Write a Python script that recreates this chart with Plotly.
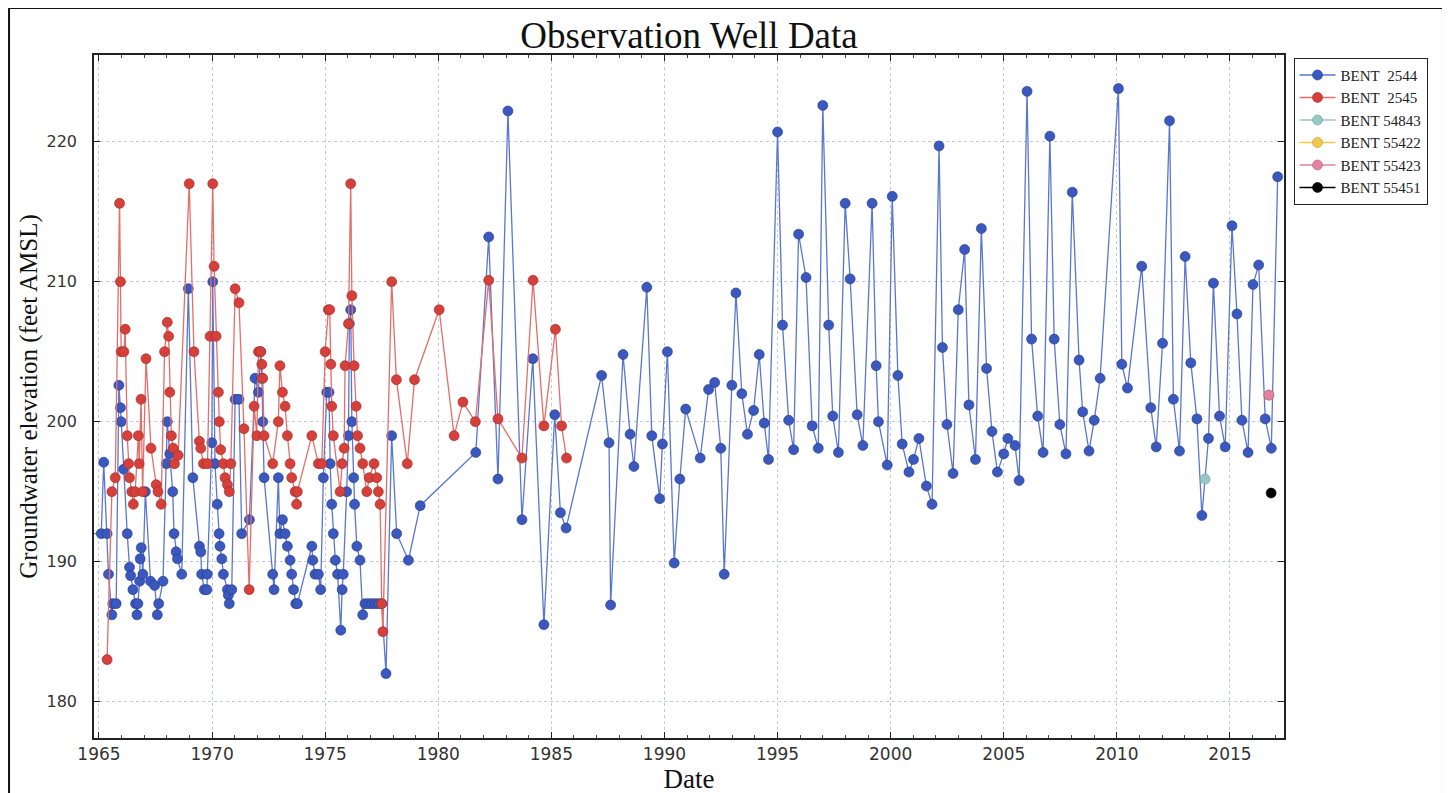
import plotly.graph_objects as go

# ---------------- data (decimal years, feet AMSL) ----------------
blue_years = [1964.50, 1965.10, 1965.21, 1965.36, 1965.42, 1965.57, 1965.61, 1965.76, 1965.88, 1965.95,
              1965.98, 1966.09, 1966.25, 1966.35, 1966.40, 1966.50, 1966.62, 1966.68, 1966.72, 1966.80,
              1966.82, 1966.87, 1966.94, 1967.05, 1967.28, 1967.46, 1967.58, 1967.64, 1967.83, 1967.98,
              1968.02, 1968.13, 1968.26, 1968.32, 1968.41, 1968.47, 1968.66, 1968.95, 1969.15, 1969.44,
              1969.50, 1969.54, 1969.66, 1969.77, 1969.79, 1969.99, 1970.03, 1970.13, 1970.23, 1970.31,
              1970.35, 1970.43, 1970.50, 1970.68, 1970.72, 1970.76, 1970.87, 1971.02, 1971.19, 1971.31,
              1971.65, 1971.90, 1972.05, 1972.15, 1972.20, 1972.24, 1972.30, 1972.68, 1972.74, 1972.93,
              1973.00, 1973.11, 1973.23, 1973.33, 1973.45, 1973.52, 1973.60, 1973.70, 1973.77, 1974.41,
              1974.45, 1974.55, 1974.70, 1974.80, 1974.92, 1975.07, 1975.17, 1975.22, 1975.29, 1975.36,
              1975.45, 1975.55, 1975.69, 1975.75, 1975.80, 1975.95, 1976.03, 1976.07, 1976.13, 1976.18,
              1976.26, 1976.30, 1976.40, 1976.54, 1976.66, 1976.76, 1976.90, 1977.05, 1977.20, 1977.35,
              1977.50, 1977.69, 1977.94, 1978.16, 1978.68, 1979.20, 1981.66, 1982.23, 1982.64, 1983.08,
              1983.70, 1984.18, 1984.67, 1985.15, 1985.40, 1985.65, 1987.22, 1987.55, 1987.62, 1988.17,
              1988.48, 1988.65, 1989.22, 1989.44, 1989.79, 1989.91, 1990.13, 1990.43, 1990.68, 1990.94,
              1991.58, 1991.95, 1992.22, 1992.49, 1992.64, 1992.98, 1993.16, 1993.42, 1993.67, 1993.94,
              1994.19, 1994.41, 1994.60, 1995.00, 1995.22, 1995.49, 1995.71, 1995.93, 1996.26, 1996.53,
              1996.80, 1997.00, 1997.26, 1997.44, 1997.69, 1997.99, 1998.21, 1998.52, 1998.77, 1999.18,
              1999.36, 1999.46, 1999.85, 2000.07, 2000.32, 2000.51, 2000.81, 2001.01, 2001.25, 2001.58,
              2001.83, 2002.14, 2002.29, 2002.49, 2002.76, 2002.99, 2003.27, 2003.46, 2003.75, 2004.01,
              2004.24, 2004.48, 2004.72, 2005.00, 2005.18, 2005.50, 2005.68, 2006.03, 2006.23, 2006.50,
              2006.74, 2007.04, 2007.23, 2007.48, 2007.75, 2008.03, 2008.33, 2008.49, 2008.77, 2009.00,
              2009.26, 2010.07, 2010.22, 2010.47, 2011.10, 2011.50, 2011.74, 2012.02, 2012.33, 2012.50,
              2012.77, 2013.02, 2013.27, 2013.54, 2013.76, 2014.05, 2014.27, 2014.54, 2014.79, 2015.09,
              2015.31, 2015.53, 2015.80, 2016.02, 2016.27, 2016.56, 2016.83, 2017.11]
blue_vals = [192.0, 192.0, 197.1, 192.0, 189.1, 186.2, 187.0, 187.0, 202.6, 201.0,
             200.0, 196.6, 192.0, 189.6, 189.0, 188.0, 187.0, 186.2, 187.0, 188.6,
             190.2, 191.0, 189.1, 195.0, 188.6, 188.3, 186.2, 187.0, 188.6, 197.0,
             200.0, 197.7, 195.0, 192.0, 190.7, 190.2, 189.1, 209.5, 196.0, 191.1,
             190.7, 189.1, 188.0, 188.0, 189.1, 198.5, 210.0, 197.0, 194.1, 192.0,
             191.1, 190.2, 189.1, 188.0, 187.6, 187.0, 188.0, 201.6, 201.6, 192.0,
             193.0, 203.1, 202.1, 205.0, 203.1, 200.0, 196.0, 189.1, 188.0, 196.0,
             192.0, 193.0, 192.0, 191.1, 190.1, 189.1, 188.0, 187.0, 187.0, 191.1,
             190.1, 189.1, 189.1, 188.0, 196.0, 202.1, 202.1, 197.0, 194.1, 192.0,
             190.1, 189.1, 185.1, 188.0, 189.1, 195.0, 199.0, 207.0, 208.0, 200.0,
             196.0, 194.1, 191.1, 190.1, 186.2, 187.0, 187.0, 187.0, 187.0, 187.0,
             187.0, 182.0, 199.0, 192.0, 190.1, 194.0, 197.8, 213.2, 195.9, 222.2,
             193.0, 204.5, 185.5, 200.5, 193.5, 192.4, 203.3, 198.5, 186.9, 204.8,
             199.1, 196.8, 209.6, 199.0, 194.5, 198.4, 205.0, 189.9, 195.9, 200.9,
             197.4, 202.3, 202.8, 198.1, 189.1, 202.6, 209.2, 202.0, 199.1, 200.8,
             204.8, 199.9, 197.3, 220.7, 206.9, 200.1, 198.0, 213.4, 210.3, 199.7,
             198.1, 222.6, 206.9, 200.4, 197.8, 215.6, 210.2, 200.5, 198.3, 215.6,
             204.0, 200.0, 196.9, 216.1, 203.3, 198.4, 196.4, 197.3, 198.8, 195.4,
             194.1, 219.7, 205.3, 199.8, 196.3, 208.0, 212.3, 201.2, 197.3, 213.8,
             203.8, 199.3, 196.4, 197.7, 198.8, 198.3, 195.8, 223.6, 205.9, 200.4,
             197.8, 220.4, 205.9, 199.8, 197.7, 216.4, 204.4, 200.7, 197.9, 200.1,
             203.1, 223.8, 204.1, 202.4, 211.1, 201.0, 198.2, 205.6, 221.5, 201.6,
             197.9, 211.8, 204.2, 200.2, 193.3, 198.8, 209.9, 200.4, 198.2, 214.0,
             207.7, 200.1, 197.8, 209.8, 211.2, 200.2, 198.1, 217.5]

red_years = [1965.36, 1965.57, 1965.72, 1965.91, 1965.95, 1965.98, 1966.10, 1966.16, 1966.25, 1966.31,
             1966.35, 1966.45, 1966.52, 1966.60, 1966.74, 1966.78, 1966.86, 1966.93, 1967.08, 1967.30,
             1967.53, 1967.61, 1967.75, 1967.90, 1968.02, 1968.08, 1968.13, 1968.20, 1968.28, 1968.34,
             1968.50, 1968.99, 1969.20, 1969.44, 1969.50, 1969.62, 1969.80, 1969.91, 1970.03, 1970.09,
             1970.18, 1970.28, 1970.32, 1970.38, 1970.50, 1970.57, 1970.68, 1970.76, 1970.83, 1971.02,
             1971.19, 1971.41, 1971.64, 1971.86, 1971.98, 1972.05, 1972.15, 1972.20, 1972.24, 1972.30,
             1972.68, 1972.93, 1973.00, 1973.11, 1973.23, 1973.33, 1973.45, 1973.52, 1973.67, 1973.74,
             1973.77, 1974.41, 1974.70, 1974.85, 1975.00, 1975.14, 1975.20, 1975.25, 1975.29, 1975.36,
             1975.66, 1975.75, 1975.84, 1975.88, 1976.03, 1976.13, 1976.18, 1976.28, 1976.37, 1976.43,
             1976.54, 1976.66, 1976.84, 1976.95, 1977.16, 1977.28, 1977.35, 1977.43, 1977.50, 1977.55,
             1977.94, 1978.15, 1978.63, 1978.95, 1980.04, 1980.70, 1981.09, 1981.64, 1982.23, 1982.64,
             1983.70, 1984.19, 1984.67, 1985.18, 1985.45, 1985.67]
red_vals = [183.0, 195.0, 196.0, 215.6, 210.0, 205.0, 205.0, 206.6, 199.0, 197.0,
            196.0, 195.0, 194.1, 195.0, 199.0, 197.0, 201.6, 195.0, 204.5, 198.1,
            195.5, 195.0, 194.1, 205.0, 207.1, 206.1, 202.1, 199.0, 198.1, 197.0,
            197.6, 217.0, 205.0, 198.6, 198.1, 197.0, 197.0, 206.1, 217.0, 211.1,
            206.1, 202.1, 200.0, 198.0, 197.0, 196.0, 195.5, 195.0, 197.0, 209.5,
            208.5, 199.5, 188.0, 201.1, 199.0, 205.0, 205.0, 204.1, 203.1, 199.0,
            197.0, 200.0, 204.0, 202.1, 201.1, 199.0, 197.0, 196.0, 195.0, 194.1,
            195.0, 199.0, 197.0, 197.0, 205.0, 208.0, 208.0, 204.1, 201.1, 199.0,
            195.0, 197.0, 198.1, 204.0, 207.0, 217.0, 209.0, 204.0, 201.1, 199.0,
            198.1, 197.0, 195.0, 196.0, 197.0, 196.0, 195.0, 194.1, 187.0, 185.0,
            210.0, 203.0, 197.0, 203.0, 208.0, 199.0, 201.4, 200.0, 210.1, 200.2,
            197.4, 210.1, 199.7, 206.6, 199.7, 197.4]

w54843_years = [2013.90]
w54843_vals = [195.9]
w55422_years = [2016.72]
w55422_vals = [201.9]
w55423_years = [2016.72]
w55423_vals = [201.9]
w55451_years = [2016.82]
w55451_vals = [194.9]

x_ticks = [1965, 1970, 1975, 1980, 1985, 1990, 1995, 2000, 2005, 2010, 2015]
y_ticks = [180, 190, 200, 210, 220]

# ---------------- figure ----------------
serif = "Liberation Serif, Times New Roman, serif"
sans = "DejaVu Sans, sans-serif"

series = [
    ("BENT\u00a0\u00a02544", blue_years, blue_vals, "#3a58bd", "#5b76cf", "#24398a"),
    ("BENT\u00a0\u00a02545", red_years, red_vals, "#d6403a", "#e36e6a", "#9c2a25"),
    ("BENT 54843", w54843_years, w54843_vals, "#96c9c6", "#96c9c6", "#6a9d9a"),
    ("BENT 55422", w55422_years, w55422_vals, "#f2c94c", "#f2c94c", "#c39b2a"),
    ("BENT 55423", w55423_years, w55423_vals, "#e283a3", "#e283a3", "#b25a78"),
    ("BENT 55451", w55451_years, w55451_vals, "#000000", "#000000", "#000000"),
]

fig = go.Figure()
for name, xs, ys, mcol, lcol, ecol in series:
    fig.add_trace(go.Scatter(
        x=xs, y=ys, name=name, mode="lines+markers",
        line=dict(color=lcol, width=1.3),
        marker=dict(size=10, color=mcol, line=dict(color=ecol, width=0.6)),
    ))

fig.update_layout(
    width=1450, height=793,
    margin=dict(l=86, r=174, t=47, b=63),
    paper_bgcolor="white", plot_bgcolor="white",
    title=dict(text="Observation Well Data", x=0.5, xref="paper", xanchor="center",
               y=0.966, yref="container", yanchor="middle",
               font=dict(family=serif, size=37, color="#111111")),
    showlegend=True,
    legend=dict(x=1.008, y=0.996, xanchor="left", yanchor="top",
                bordercolor="#222222", borderwidth=1, bgcolor="white",
                font=dict(family=serif, size=15, color="#222222"),
                tracegroupgap=0, itemwidth=36),
    shapes=[dict(type="rect", xref="paper", yref="paper",
                 x0=-0.0714, x1=1.1336, y0=-0.2, y1=1.0688,
                 line=dict(color="#111111", width=2), layer="below")],
)

fig.update_xaxes(
    range=[1964.78, 2017.39], tickmode="array", tickvals=x_ticks,
    ticktext=[str(t) for t in x_ticks],
    showline=True, linecolor="#222222", linewidth=1.5, mirror="allticks",
    ticks="inside", ticklen=6, tickcolor="#222222",
    minor=dict(dtick=1, ticks="inside", ticklen=3, tickcolor="#444444", showgrid=False),
    showgrid=True, gridcolor="#c3c6de", griddash="dot", gridwidth=1,
    zeroline=False,
    tickfont=dict(family=sans, size=17, color="#333333"),
    title=dict(text="Date", font=dict(family=serif, size=27, color="#111111"), standoff=4),
)
fig.update_yaxes(
    range=[177.4, 226.2], tickmode="array", tickvals=y_ticks,
    showline=True, linecolor="#222222", linewidth=1.5, mirror="allticks",
    ticks="inside", ticklen=6, tickcolor="#222222",
    showgrid=True, gridcolor="#c3c6de", griddash="dot", gridwidth=1,
    zeroline=False, ticklabelstandoff=12,
    tickfont=dict(family=sans, size=16, color="#333333"),
    title=dict(text="Groundwater elevation (feet AMSL)",
               font=dict(family=serif, size=25, color="#111111"), standoff=2),
)

fig.write_html("out.html")
